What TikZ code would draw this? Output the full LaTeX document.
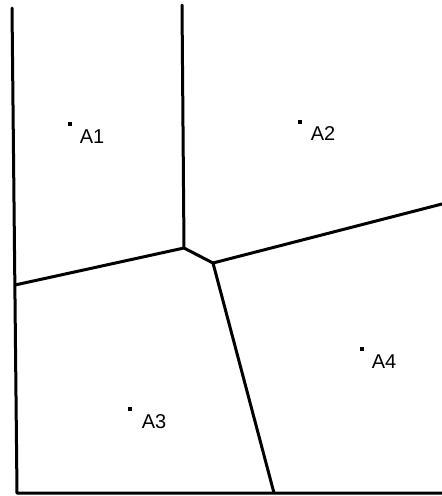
\documentclass[tikz,border=0pt]{standalone}
\usepackage{fontspec}
\setmainfont{Liberation Sans}
\begin{document}
\begin{tikzpicture}[x=1pt,y=-1pt,
  edge/.style={line width=3pt,line cap=round,line join=round},
  site/.style={fill=black,minimum size=4.5pt,inner sep=0pt,draw=none,rectangle},
  lbl/.style={inner sep=0pt,font=\fontsize{20}{22}\selectfont}]
\useasboundingbox[fill=white] (0,0) rectangle (442,496);
% frame corners and Voronoi vertices
\coordinate (tl) at (12,8);
\coordinate (bl) at (17,493);
\coordinate (br) at (442,493);
\coordinate (mt) at (182,5);
\coordinate (v1) at (184,248);
\coordinate (v2) at (213,263);
\coordinate (le) at (15,285);
\coordinate (re) at (442,204);
\coordinate (be) at (274,493);
\draw[edge] (tl) -- (bl) -- (br);
\draw[edge] (mt) -- (v1);
\draw[edge] (le) -- (v1) -- (v2);
\draw[edge] (v2) -- (re);
\draw[edge] (v2) -- (be);
% sites
\node[site] (s1) at (70,124) {};
\node[site] (s2) at (300,122) {};
\node[site] (s3) at (130,409) {};
\node[site] (s4) at (362,349) {};
\node[lbl] (l1) at (92,137) {A1};
\node[lbl] (l2) at (323,134) {A2};
\node[lbl] (l3) at (154,422) {A3};
\node[lbl] (l4) at (384,362) {A4};
\end{tikzpicture}
\end{document}
